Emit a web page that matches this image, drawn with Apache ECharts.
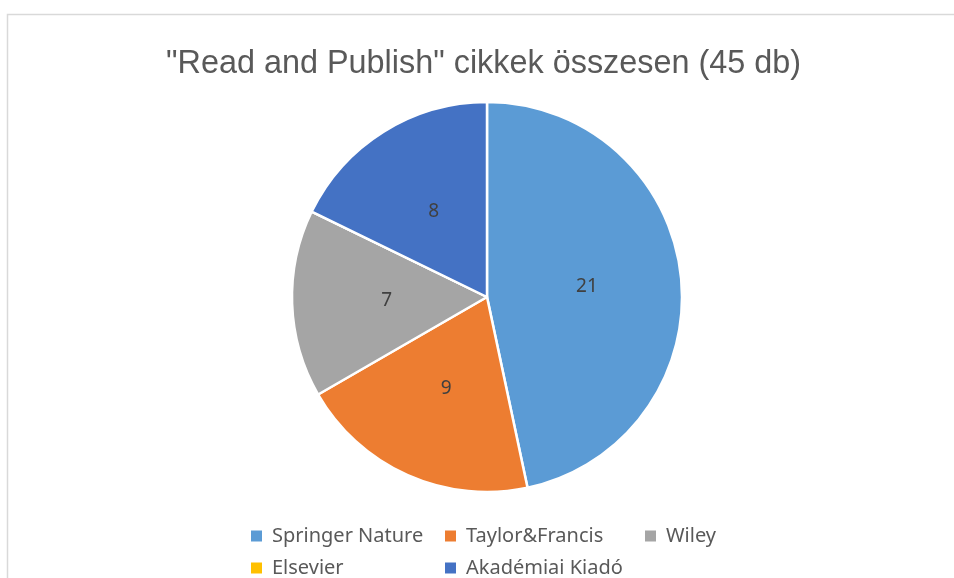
<!DOCTYPE html>
<html>
<head>
<meta charset="utf-8">
<script src="https://cdn.jsdelivr.net/npm/echarts@6/dist/echarts.min.js"></script>
<style>html,body{margin:0;padding:0;background:#fff;}#c{width:954px;height:578px;}</style>
</head>
<body>
<div id="c"></div>
<script>
const titleText = '"Read and Publish" cikkek összesen (45 db)';
const categories = ['Springer Nature', 'Taylor&Francis', 'Wiley', 'Elsevier', 'Akadémiai Kiadó'];
const values = [21, 9, 7, 0, 8];
const colors = ['#5B9BD5', '#ED7D31', '#A5A5A5', '#FFC000', '#4472C4'];

const legendPos = [
  {left: 251, top: 526},
  {left: 445, top: 526},
  {left: 645, top: 526},
  {left: 251, top: 558},
  {left: 445, top: 558}
];

const chart = echarts.init(document.getElementById('c'), null, {renderer: 'canvas'});
const legends = categories.map((name, i) => ({
  data: [name],
  left: legendPos[i].left,
  top: legendPos[i].top,
  padding: 0,
  icon: 'rect',
  itemWidth: 11,
  itemHeight: 11,
  itemStyle: {borderWidth: 0},
  selectedMode: false,
  textStyle: {fontFamily: 'Noto Sans', fontSize: 20, color: '#595959', lineHeight: 20, padding: [0, 0, 0, 5]}
}));

chart.setOption({
  animation: false,
  color: colors,
  graphic: [{
    type: 'rect',
    shape: {x: 7.5, y: 14.5, width: 1000, height: 700},
    style: {fill: 'none', stroke: '#d9d9d9', lineWidth: 1.5},
    silent: true
  }],
  title: {
    text: titleText,
    left: 161,
    top: 43,
    padding: 5,
    textStyle: {fontFamily: 'Liberation Sans', fontSize: 32.4, fontWeight: 'normal', color: '#595959'}
  },
  legend: legends,
  series: [{
    type: 'pie',
    center: [487, 297],
    radius: [0, 195],
    startAngle: 90,
    clockwise: true,
    avoidLabelOverlap: false,
    itemStyle: {borderColor: '#ffffff', borderWidth: 2.5},
    label: {
      show: true,
      position: 'inside',
      fontFamily: 'Noto Sans',
      fontSize: 19,
      color: '#404040',
      formatter: p => (p.value ? String(p.value) : '')
    },
    labelLine: {show: false},
    emphasis: {disabled: true},
    data: categories.map((n, i) => ({name: n, value: values[i]}))
  }]
});
</script>
</body>
</html>
